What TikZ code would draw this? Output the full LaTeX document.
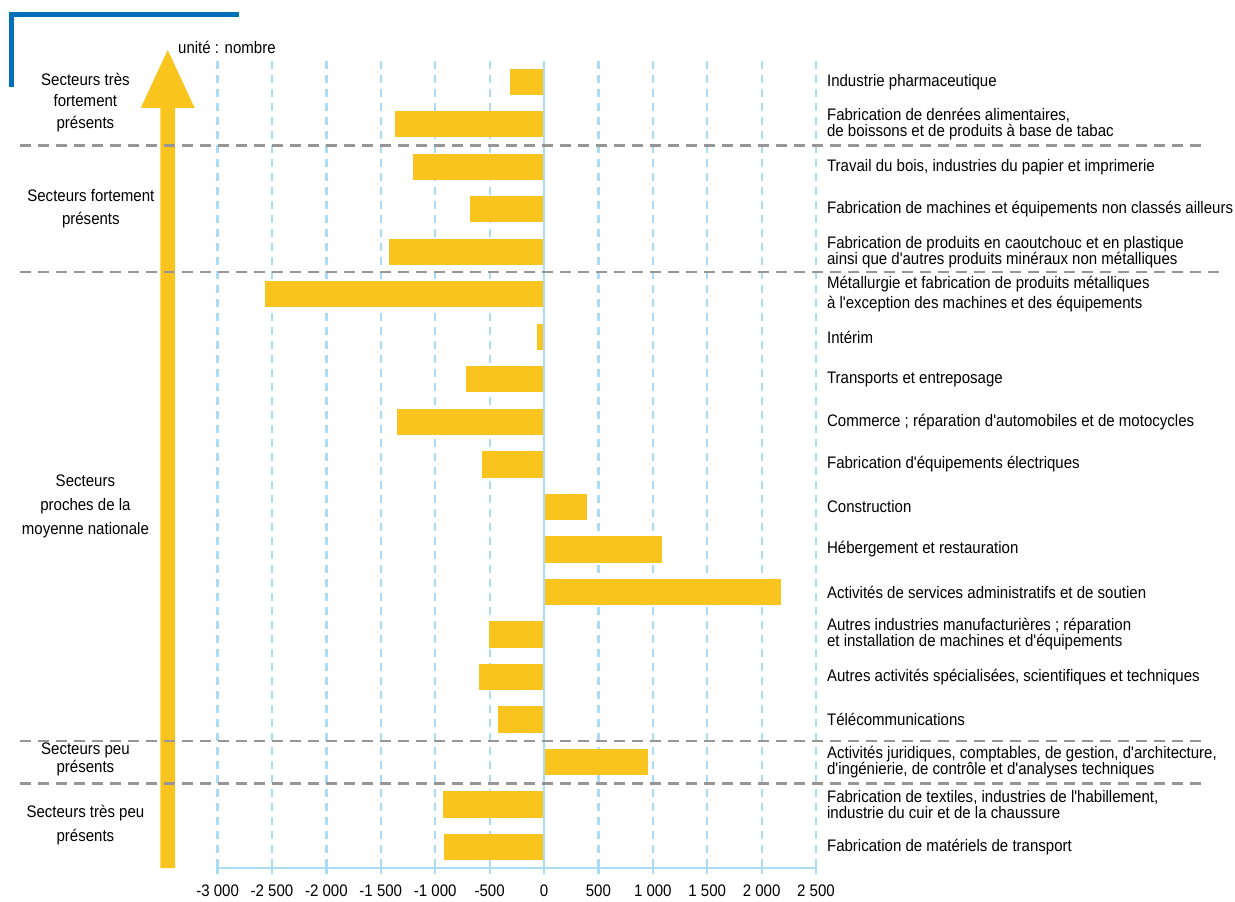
\documentclass[tikz,border=0pt]{standalone}
\usepackage{fontspec}
\setmainfont{Liberation Sans}[FakeStretch=0.9, Ligatures=TeXOff]
\usepackage{tikz}
\usetikzlibrary{positioning}
\definecolor{barcol}{RGB}{250,196,30}
\definecolor{gridcol}{RGB}{170,220,245}
\definecolor{sepcol}{RGB}{150,150,150}
\definecolor{framecol}{RGB}{0,112,186}
\tikzset{
    grid line/.style={gridcol, line width=2.2pt, dash pattern=on 8pt off 6pt},
    sep line/.style={sepcol, line width=2.5pt, dash pattern=on 11pt off 7pt},
    every node/.style={inner sep=0pt, font=\fontsize{16.7}{16}\selectfont},
    lab/.style={anchor=west, align=left},
    grp/.style={align=center},
}

\begin{document}
\begin{tikzpicture}[x=54.4pt, y=-42.5pt]
\useasboundingbox (-10,-0.929) rectangle (12.702,20.294);
\draw[framecol, line width=4.5pt] (-9.785,1.125) -- (-9.785,-0.588) -- (-5.612,-0.588);
\foreach \v in {-6,-5,-4,-3,-2,-1,1,2,3,4,5}
    \draw[grid line] (\v,0.506) -- (\v,19.494);
\draw[gridcol, line width=2.6pt] (-6,19.494) -- (5,19.494);
\foreach \v/\t [count=\i] in {-6/-3 000,-5/-2 500,-4/-2 000,-3/-1 500,-2/-1 000,-1/-500,0/0,1/500,2/1 000,3/1 500,4/2 000,5/2 500}
{
    \draw[gridcol, line width=2.2pt] (\v,19.35) -- (\v,19.64);
    \node (tk\i) at (\v,20.03) {\t};
}
\foreach \v/\r in {-310/1,-1370/2,-1200/3,-680/4,-1425/5,-2565/6,-65/7,-715/8,-1350/9,-570/10,395/11,1085/12,2180/13,-505/14,-600/15,-425/16,955/17,-930/18,-920/19}
    \fill[barcol] (0,\r-0.306) rectangle (\v/500,\r+0.306);
\draw[gridcol, line width=2.2pt] (0,0.506) -- (0,19.494);
\fill[barcol] (-7.051,19.494) -- (-7.051,1.612) -- (-7.413,1.612) -- (-6.917,0.247)
    -- (-6.421,1.612) -- (-6.783,1.612) -- (-6.783,19.494) -- cycle;
\draw[sep line] (-9.632,2.5) -- (12.151,2.5);
\draw[sep line] (-9.632,5.47) -- (12.463,5.47);
\draw[sep line] (-9.632,16.5) -- (12.151,16.5);
\draw[sep line] (-9.632,17.5) -- (12.151,17.5);
\node[anchor=west] (unit) at (-6.728,0.176) {unité : nombre};
\node[grp, font=\fontsize{16.7}{21.5}\selectfont] (g1) at (-8.43,1.48) {Secteurs très\\fortement\\présents};
\node[grp, font=\fontsize{16.7}{23}\selectfont] (g2) at (-8.33,3.98) {Secteurs fortement\\présents};
\node[grp, font=\fontsize{16.7}{24}\selectfont] (g3) at (-8.43,10.98) {Secteurs\\proches de la\\moyenne nationale};
\node[grp, font=\fontsize{16.7}{18}\selectfont] (g4) at (-8.43,16.93) {Secteurs peu\\présents};
\node[grp, font=\fontsize{16.7}{24}\selectfont] (g5) at (-8.43,18.48) {Secteurs très peu\\présents};
\node[lab] (l1) at (5.2,1) {Industrie pharmaceutique};
\node[lab] (l2) at (5.2,2) {Fabrication de denrées alimentaires,\\de boissons et de produits à base de tabac};
\node[lab] (l3) at (5.2,3) {Travail du bois, industries du papier et imprimerie};
\node[lab] (l4) at (5.2,4) {Fabrication de machines et équipements non classés ailleurs};
\node[lab] (l5) at (5.2,5) {Fabrication de produits en caoutchouc et en plastique\\ainsi que d'autres produits minéraux non métalliques};
\node[lab] (l6) at (5.2,6) {Métallurgie et fabrication de produits métalliques\\[4pt]à l'exception des machines et des équipements};
\node[lab] (l7) at (5.2,7) {Intérim};
\node[lab] (l8) at (5.2,8) {Transports et entreposage};
\node[lab] (l9) at (5.2,9) {Commerce ; réparation d'automobiles et de motocycles};
\node[lab] (l10) at (5.2,10) {Fabrication d'équipements électriques};
\node[lab] (l11) at (5.2,11) {Construction};
\node[lab] (l12) at (5.2,12) {Hébergement et restauration};
\node[lab] (l13) at (5.2,13) {Activités de services administratifs et de soutien};
\node[lab] (l14) at (5.2,14) {Autres industries manufacturières ; réparation\\et installation de machines et d'équipements};
\node[lab] (l15) at (5.2,15) {Autres activités spécialisées, scientifiques et techniques};
\node[lab] (l16) at (5.2,16) {Télécommunications};
\node[lab] (l17) at (5.2,17) {Activités juridiques, comptables, de gestion, d'architecture,\\d'ingénierie, de contrôle et d'analyses techniques};
\node[lab] (l18) at (5.2,18) {Fabrication de textiles, industries de l'habillement,\\industrie du cuir et de la chaussure};
\node[lab] (l19) at (5.2,19) {Fabrication de matériels de transport};
\end{tikzpicture}
\end{document}
